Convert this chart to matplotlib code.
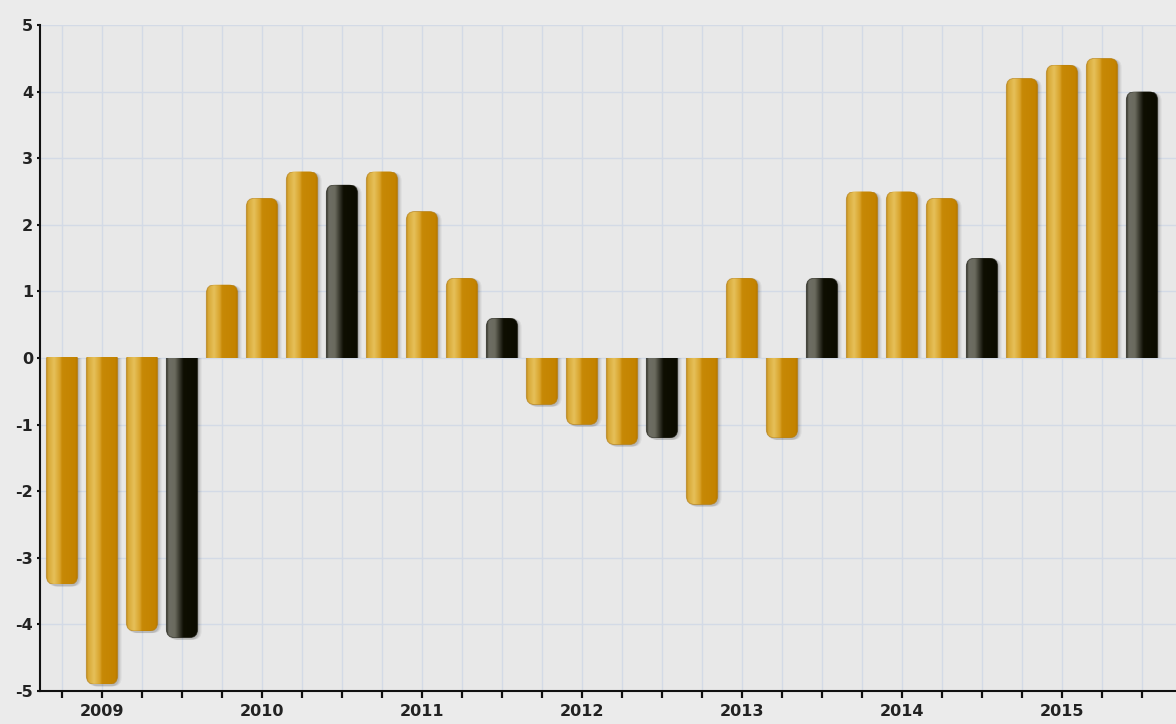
import numpy as np
import matplotlib
matplotlib.use("Agg")
import matplotlib.pyplot as plt
from matplotlib.colors import LinearSegmentedColormap
from matplotlib.patches import FancyBboxPatch, Rectangle

# ---- data ----
years = ["2009", "2010", "2011", "2012", "2013", "2014", "2015"]
quarters = ["Q1", "Q2", "Q3", "Q4"]
values = [-3.4, -4.9, -4.1, -4.2,
          1.1, 2.4, 2.8, 2.6,
          2.8, 2.2, 1.2, 0.6,
          -0.7, -1.0, -1.3, -1.2,
          -2.2, 1.2, -1.2, 1.2,
          2.5, 2.5, 2.4, 1.5,
          4.2, 4.4, 4.5, 4.0]
yticks = [-5, -4, -3, -2, -1, 0, 1, 2, 3, 4, 5]

W, H = 1176, 724
fig = plt.figure(figsize=(W / 100, H / 100), dpi=100, facecolor="#ebebeb")
ax = fig.add_axes([40 / W, 33 / H, (W - 40) / W, (691 - 25) / H])
ax.set_facecolor("#e8e8e8")

n = len(values)
x = np.arange(n)
width = 0.78
RS = 0.21      # rounding size (x units)
ASP = 0.6      # px-per-x / px-per-y
EXT = 0.3      # extension past baseline so that base end is flat

gold_cmap = LinearSegmentedColormap.from_list("gold", [
    (0.0, "#c08a14"), (0.07, "#d9aa38"), (0.25, "#e6c05a"),
    (0.44, "#d8a22a"), (0.50, "#c78906"), (0.92, "#c48300"), (1.0, "#b47600")])
dark_cmap = LinearSegmentedColormap.from_list("dark", [
    (0.0, "#2a2a20"), (0.08, "#6e6e64"), (0.28, "#6a6a5e"),
    (0.48, "#24241a"), (0.55, "#0f0f02"), (1.0, "#0b0b00")])
grad = np.linspace(0, 1, 64).reshape(1, -1)


def rounded(x0, v, **kw):
    if v >= 0:
        y0, h = -EXT, v + EXT
    else:
        y0, h = v, -v + EXT
    return FancyBboxPatch((x0, y0), width, h,
                          boxstyle=f"round,pad=0,rounding_size={RS}",
                          mutation_aspect=ASP, **kw)


bars = ax.bar(x, values, width=width, color="none", edgecolor="none", zorder=3)
for i, (rect, v) in enumerate(zip(bars.patches, values)):
    dark = (i % 4 == 3)
    cmap = dark_cmap if dark else gold_cmap
    x0 = rect.get_x()
    lo, hi = (0, v) if v > 0 else (v, 0)
    # soft shadow on the right / far end
    if v > 0:
        sc = Rectangle((x0 - 0.3, 0), width + 0.6, hi + 0.1, transform=ax.transData)
    else:
        sc = Rectangle((x0 - 0.3, lo - 0.1), width + 0.6, -lo + 0.1 - 0.001,
                       transform=ax.transData)
    for k, a in [(0.10, 0.05), (0.07, 0.07), (0.04, 0.09)]:
        sv = v - 0.03 if v < 0 else v - 0.01
        sb = rounded(x0 + k, sv, facecolor="black", alpha=a,
                     edgecolor="none", zorder=2)
        ax.add_patch(sb)
        sb.set_clip_path(sc)
    clip = rounded(x0, v, facecolor="none", edgecolor="none")
    ax.add_patch(clip)
    im = ax.imshow(grad, cmap=cmap, aspect="auto",
                   extent=(x0, x0 + width, lo, hi), zorder=4,
                   interpolation="bilinear")
    im.set_clip_path(clip)
    edge = rounded(x0, v, facecolor="none",
                   edgecolor=("#1a1a10" if dark else "#b07a10"),
                   lw=0.7, alpha=0.6, zorder=5)
    ax.add_patch(edge)
    edge.set_clip_path(Rectangle((x0 - 0.1, lo), width + 0.2, hi - lo,
                                 transform=ax.transData))

ax.set_xlim(-0.55, (W - 62) / 40)
ax.set_ylim(-5, 5)
ax.set_yticks(yticks)
ax.set_yticklabels([str(t) for t in yticks])
ax.set_xticks(x)
labels = [years[i // 4] if i % 4 == 1 else "" for i in range(n)]
ax.set_xticklabels(labels)

ax.grid(True, color="#d3dae6", lw=1.0, zorder=0)
ax.set_axisbelow(True)
for s in ["top", "right"]:
    ax.spines[s].set_visible(False)
for s in ["left", "bottom"]:
    ax.spines[s].set_color("#111111")
    ax.spines[s].set_linewidth(1.5)
    ax.spines[s].set_zorder(6)

ax.tick_params(axis="x", direction="out", length=5, width=1.6, color="#111111",
               labelsize=11.5, pad=4)
ax.tick_params(axis="y", direction="out", length=2, width=1.5, color="#111111",
               labelsize=11.5, pad=3)
for lab in ax.get_xticklabels() + ax.get_yticklabels():
    lab.set_fontweight("bold")
    lab.set_color("#222222")

fig.savefig("out.png", dpi=100, facecolor=fig.get_facecolor())
